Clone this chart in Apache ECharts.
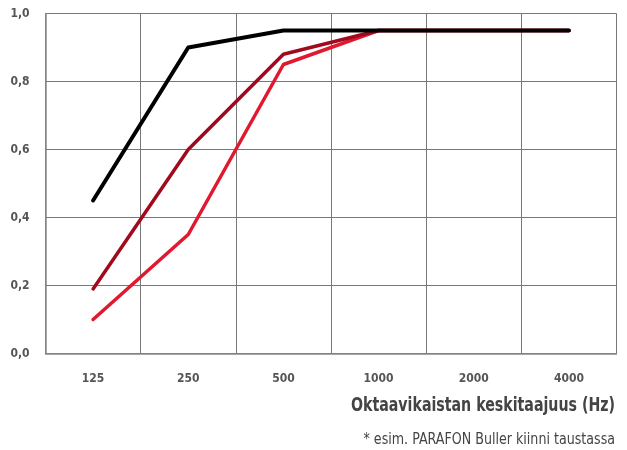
<!DOCTYPE html>
<html>
<head>
<meta charset="utf-8">
<script src="https://cdn.jsdelivr.net/npm/echarts@6/dist/echarts.min.js"></script>
<style>html,body{margin:0;padding:0;background:#fff}#c{width:627px;height:450px}</style>
</head>
<body>
<div id="c"></div>
<script>
const categories = ['125', '250', '500', '1000', '2000', '4000'];
const yTicks = ['0,0', '0,2', '0,4', '0,6', '0,8', '1,0'];
const brightRed = [0.10, 0.35, 0.85, 0.95, 0.95, 0.95];
const darkRed = [0.19, 0.60, 0.88, 0.95, 0.95, 0.95];
const black = [0.45, 0.90, 0.95, 0.95, 0.95, 0.95];
const axisTitle = 'Oktaavikaistan keskitaajuus (Hz)';
const footnote = '* esim. PARAFON Buller kiinni taustassa';

const FONT = '"DejaVu Sans Condensed", "Liberation Sans Narrow", sans-serif';
const chart = echarts.init(document.getElementById('c'), null, {renderer: 'canvas'});
chart.setOption({
  animation: false,
  backgroundColor: '#fff',
  grid: {left: 45.5, right: 10.5, top: 13.5, bottom: 96.5, containLabel: false},
  graphic: [
    {type: 'text', x: 615, y: 406, scaleX: 0.83, silent: true,
     style: {text: axisTitle, x: 0, y: 0, textAlign: 'right', textVerticalAlign: 'middle',
       font: 'bold 19px ' + FONT, fill: '#444'}},
    {type: 'text', x: 615, y: 440, scaleX: 0.88, silent: true,
     style: {text: footnote, x: 0, y: 0, textAlign: 'right', textVerticalAlign: 'middle',
       font: '16px ' + FONT, fill: '#444'}}
  ],
  xAxis: {
    type: 'category',
    data: categories,
    boundaryGap: true,
    axisTick: {show: false},
    axisLine: {show: true, lineStyle: {color: '#888', width: 1.5}},
    splitLine: {show: true, lineStyle: {color: '#777', width: 1}},
    axisLabel: {margin: 19, fontFamily: FONT, fontWeight: 'bold', fontSize: 12, color: '#555'}
  },
  yAxis: {
    type: 'value',
    min: 0, max: 1, interval: 0.2,
    axisLine: {show: true, lineStyle: {color: '#888', width: 1.5}},
    axisTick: {show: false},
    splitLine: {show: true, lineStyle: {color: '#777', width: 1}},
    axisLabel: {margin: 16, fontFamily: FONT, fontWeight: 'bold', fontSize: 12, color: '#555',
      formatter: function (v) { return yTicks[Math.round(v / 0.2)]; }}
  },
  series: [
    {type: 'line', data: brightRed, symbol: 'none', z: 2, lineStyle: {color: '#e0192f', width: 3.5, cap: 'round', join: 'round'}},
    {type: 'line', data: darkRed, symbol: 'none', z: 3, lineStyle: {color: '#a10a1d', width: 3.5, cap: 'round', join: 'round'}},
    {type: 'line', data: black, symbol: 'none', z: 4, lineStyle: {color: '#000', width: 4, cap: 'round', join: 'round'}}
  ]
});
</script>
</body>
</html>
